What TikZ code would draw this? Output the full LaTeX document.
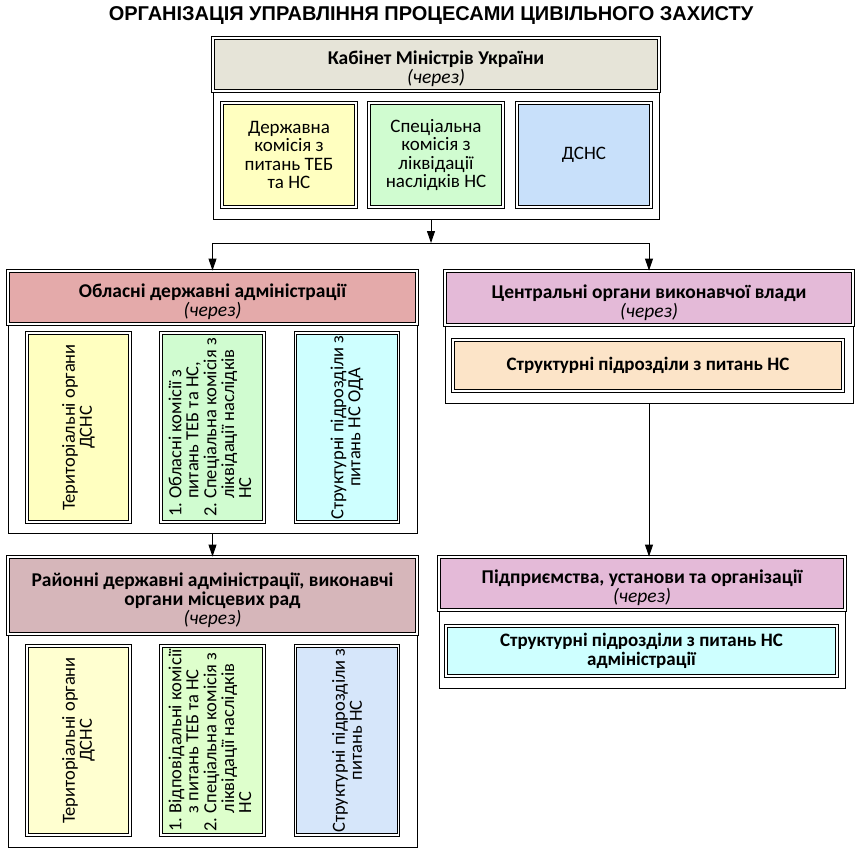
\documentclass[tikz,border=0pt]{standalone}
\usepackage{fontspec}
\setmainfont{Carlito}
\newfontfamily\titlefont{Liberation Sans}
\usetikzlibrary{arrows.meta}

\definecolor{hdrkmu}{RGB}{230,228,216}
\definecolor{hdroda}{RGB}{228,170,170}
\definecolor{hdrrda}{RGB}{214,182,186}
\definecolor{hdrcov}{RGB}{228,186,216}
\definecolor{cyellow}{RGB}{255,255,192}
\definecolor{cyellowb}{RGB}{255,255,208}
\definecolor{cgreen}{RGB}{208,252,208}
\definecolor{cgreenb}{RGB}{222,255,204}
\definecolor{cblue}{RGB}{200,224,250}
\definecolor{cblueb}{RGB}{214,230,250}
\definecolor{ccyan}{RGB}{206,255,255}
\definecolor{corange}{RGB}{252,228,200}

\newcommand{\hdrtop}{\rule{0pt}{23pt}}
\newcommand{\vialine}{\\{\mdseries\itshape (через)}}

\tikzset{
  grp/.style={draw, line width=0.9pt, inner sep=0pt},
  hdr/.style={draw, double, double distance=1.6pt, line width=0.9pt, inner sep=0pt,
    align=center, font=\fontsize{19.5}{19}\selectfont\bfseries},
  cell/.style={draw, double, double distance=1.6pt, line width=0.9pt, inner sep=0pt,
    align=center, font=\fontsize{19}{18.5}\selectfont},
  bcell/.style={cell, font=\fontsize{19}{19}\selectfont\bfseries},
  vcell/.style={cell, rotate=90, minimum width=189pt, minimum height=103pt,
    font=\fontsize{18.5}{17}\selectfont}
}

\begin{document}
\begin{tikzpicture}[x=1pt, y=-1pt, >={Triangle[length=12pt,width=8pt]}]
\useasboundingbox (0,0) rectangle (865,857);

% Title
\node (title) at (431,16) {\titlefont\bfseries\fontsize{20}{22}\selectfont ОРГАНІЗАЦІЯ УПРАВЛІННЯ ПРОЦЕСАМИ ЦИВІЛЬНОГО ЗАХИСТУ};

% Cabinet of Ministers
\node [grp, minimum width=446pt, minimum height=181pt] (kmu) at (436,128.5) {};
\node [hdr, fill=hdrkmu, minimum width=446pt, minimum height=53pt] (kmuh) at (436,64.5) {\hdrtop Кабінет Міністрів України\vialine};
\node [cell, fill=cyellow, minimum width=134pt, minimum height=104pt] (kmu1) at (289,155) {Державна\\комісія з\\питань ТЕБ\\та НС};
\node [cell, fill=cgreen, minimum width=134pt, minimum height=104pt] (kmu2) at (436,155) {Спеціальна\\комісія з\\ліквідації\\наслідків НС};
\node [cell, fill=cblue, minimum width=134pt, minimum height=104pt] (kmu3) at (584,155) {ДСНС};

% Regional state administrations
\node [grp, minimum width=409pt, minimum height=262pt] (oda) at (212.5,402) {};
\node [hdr, fill=hdroda, minimum width=409pt, minimum height=53pt] (odah) at (212.5,297.5) {\hdrtop Обласні державні адміністрації\vialine};
\node [vcell, fill=cyellow] (oda1) at (78.5,427.5) {Територіальні органи\\ДСНС};
\node [vcell, fill=cgreen] (oda2) at (212.5,427.5) {\begin{tabular}{@{}l@{~}l@{}}1. & Обласні комісії з\\ & питань ТЕБ та НС,\\2. & Спеціальна комісія з\\ & ліквідації наслідків\\ & НС\end{tabular}};
\node [vcell, fill=ccyan] (oda3) at (347,427.5) {Структурні підрозділи з\\питань НС ОДА};

% District state administrations
\node [grp, minimum width=409pt, minimum height=290pt] (rda) at (212.5,702) {};
\node [hdr, fill=hdrrda, minimum width=409pt, minimum height=77pt] (rdah) at (212.5,595.5) {\hdrtop Районні державні адміністрації, виконавчі\\органи місцевих рад\vialine};
\node [vcell, fill=cyellowb] (rda1) at (78.5,740.5) {Територіальні органи\\ДСНС};
\node [vcell, fill=cgreenb] (rda2) at (212.5,740.5) {\begin{tabular}{@{}l@{~}l@{}}1. & Відповідальні комісії\\ & з питань ТЕБ та НС\\2. & Спеціальна комісія з\\ & ліквідації наслідків\\ & НС\end{tabular}};
\node [vcell, fill=cblueb] (rda3) at (347,740.5) {Структурні підрозділи з\\питань НС};

% Central executive bodies
\node [grp, minimum width=408pt, minimum height=132pt] (cov) at (649,337) {};
\node [hdr, fill=hdrcov, minimum width=408pt, minimum height=54pt] (covh) at (649,298) {\hdrtop Центральні органи виконавчої влади\vialine};
\node [bcell, fill=corange, minimum width=390pt, minimum height=51pt] (cov1) at (648,365.5) {Структурні підрозділи з питань НС};

% Enterprises
\node [grp, minimum width=406pt, minimum height=131pt] (ent) at (642,622.5) {};
\node [hdr, fill=hdrcov, minimum width=406pt, minimum height=53pt] (enth) at (642,583.5) {\hdrtop Підприємства, установи та організації\vialine};
\node [bcell, fill=ccyan, minimum width=391pt, minimum height=50pt] (ent1) at (641.5,651) {Структурні підрозділи з питань НС\\адміністрації};

% Arrows
\coordinate (split) at (431,243);
\draw [->, line width=0.9pt] (kmu.south -| split) -- (split);
\draw [->, line width=0.9pt] (split) -| (odah.north);
\draw [->, line width=0.9pt] (split) -| (covh.north);
\draw [->, line width=0.9pt] (oda.south) -- (rdah.north);
\draw [->, line width=0.9pt] (cov.south) -- (cov.south |- enth.north);
\end{tikzpicture}
\end{document}
